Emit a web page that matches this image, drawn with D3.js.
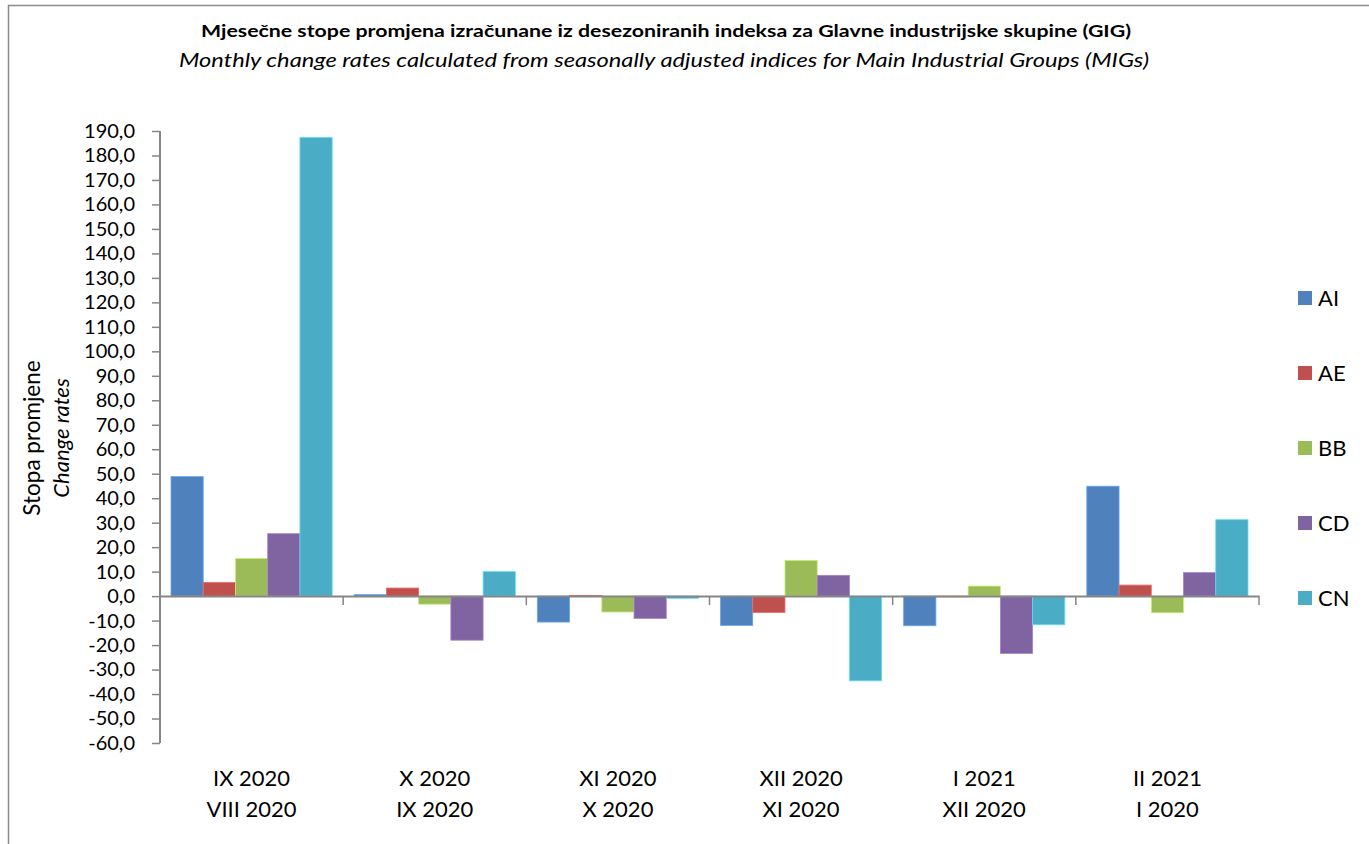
<!DOCTYPE html>
<html>
<head>
<meta charset="utf-8">
<script src="https://cdn.jsdelivr.net/npm/d3@7"></script>
<style>
  body { margin: 0; background: #fff; }
  svg { display: block; font-family: Lato, "Open Sans", sans-serif; }
</style>
</head>
<body>
<div id="chart"></div>
<script>
// periods: current month / previous month
const periodsTop = ['IX 2020', 'X 2020', 'XI 2020', 'XII 2020', 'I 2021', 'II 2021'];
const periodsBottom = ['VIII 2020', 'IX 2020', 'X 2020', 'XI 2020', 'XII 2020', 'I 2020'];
const seriesNames = ['AI', 'AE', 'BB', 'CD', 'CN'];
const seriesColors = ['#4F81BD', '#C0504D', '#9BBB59', '#8064A2', '#4BACC6'];

// values per series, one per period
const valuesAI = [48.8, 0.6, -10.6, -12.0, -12.1, 44.9];
const valuesAE = [5.6, 3.3, 0.3, -6.7, -0.3, 4.5];
const valuesBB = [15.4, -3.3, -6.5, 14.6, 4.1, -6.8];
const valuesCD = [25.5, -18.0, -9.1, 8.5, -23.4, 9.6];
const valuesCN = [187.4, 10.0, -0.9, -34.6, -11.7, 31.2];

const yTicks = d3.range(-60, 191, 10);

const W = 1369, H = 844;
const margin = {left: 160, right: 110, top: 131, bottom: 101};

const allValues = [valuesAI, valuesAE, valuesBB, valuesCD, valuesCN];
const data = periodsTop.map((p, i) => ({
  period: p,
  vals: seriesNames.map((s, j) => ({series: s, value: allValues[j][i], color: seriesColors[j]}))
}));

const svg = d3.select('#chart').append('svg')
  .attr('width', W).attr('height', H);

// outer frame
svg.append('rect')
  .attr('x', 8.5).attr('y', 5.5)
  .attr('width', W + 20).attr('height', H + 20)
  .attr('fill', 'none').attr('stroke', '#8c8c8c').attr('stroke-width', 1.5);

// titles
svg.append('text')
  .attr('x', 666).attr('y', 37)
  .attr('text-anchor', 'middle')
  .attr('font-size', 17.5).attr('font-weight', 'bold')
  .attr('textLength', 930).attr('lengthAdjust', 'spacingAndGlyphs')
  .text('Mjesečne stope promjena izračunane iz desezoniranih indeksa za Glavne industrijske skupine (GIG)');
svg.append('text')
  .attr('x', 664).attr('y', 67)
  .attr('text-anchor', 'middle')
  .attr('font-size', 19).attr('font-style', 'italic')
  .attr('textLength', 970).attr('lengthAdjust', 'spacingAndGlyphs')
  .text('Monthly change rates calculated from seasonally adjusted indices for Main Industrial Groups (MIGs)');

const x0 = d3.scaleBand()
  .domain(periodsTop)
  .range([margin.left, 1259]);

const x1 = d3.scaleBand()
  .domain(seriesNames)
  .range([11, x0.bandwidth() - 11]);

const y = d3.scaleLinear()
  .domain([-60, 190])
  .range([743, 131]);

// bars
const groups = svg.append('g').selectAll('g.grp')
  .data(data)
  .join('g')
  .attr('class', 'grp')
  .attr('transform', d => 'translate(' + x0(d.period) + ',0)');

groups.selectAll('rect')
  .data(d => d.vals)
  .join('rect')
  .attr('x', d => x1(d.series))
  .attr('width', x1.bandwidth())
  .attr('y', d => y(Math.max(0, d.value)))
  .attr('height', d => Math.abs(y(d.value) - y(0)))
  .attr('fill', d => d.color)
  .attr('stroke', d => d3.color(d.color).brighter(0.7))
  .attr('stroke-width', 0.8);

// y axis
const yAxis = d3.axisLeft(y)
  .tickValues(yTicks)
  .tickSize(8)
  .tickPadding(17)
  .tickFormat(d => d3.format('.1f')(d).replace('.', ',').replace('−', '-'));

const gy = svg.append('g')
  .attr('transform', 'translate(' + margin.left + ',0)')
  .call(yAxis);
gy.select('.domain').attr('stroke', '#868686').attr('stroke-width', 2)
  .attr('d', 'M0,' + y(190) + 'V' + y(-60));
gy.selectAll('.tick line').attr('stroke', '#868686').attr('stroke-width', 1.5);
gy.selectAll('.tick text')
  .attr('font-size', 20).attr('fill', '#000')
  .attr('font-family', 'Lato, sans-serif');

// zero line with category ticks
const xAxis = d3.axisBottom(x0)
  .tickValues([])
  .tickSizeOuter(0);
const gx = svg.append('g')
  .attr('transform', 'translate(0,' + y(0) + ')')
  .call(xAxis);
gx.select('.domain').attr('stroke', '#868686').attr('stroke-width', 2);
gx.selectAll('line.ctick')
  .data(periodsTop)
  .join('line')
  .attr('class', 'ctick')
  .attr('x1', d => x0(d) + x0.bandwidth())
  .attr('x2', d => x0(d) + x0.bandwidth())
  .attr('y1', 0).attr('y2', 9)
  .attr('stroke', '#868686').attr('stroke-width', 1.5);

// category labels
const labels = svg.append('g');
labels.selectAll('text.top')
  .data(periodsTop)
  .join('text')
  .attr('class', 'top')
  .attr('x', d => x0(d) + x0.bandwidth() / 2)
  .attr('y', 786)
  .attr('text-anchor', 'middle')
  .attr('font-size', 22)
  .text(d => d);
labels.selectAll('text.bot')
  .data(periodsBottom)
  .join('text')
  .attr('class', 'bot')
  .attr('x', (d, i) => x0(periodsTop[i]) + x0.bandwidth() / 2)
  .attr('y', 817)
  .attr('text-anchor', 'middle')
  .attr('font-size', 22)
  .text(d => d);

// y axis titles
svg.append('text')
  .attr('transform', 'translate(40,438) rotate(-90)')
  .attr('text-anchor', 'middle')
  .attr('font-size', 22.5)
  .text('Stopa promjene');
svg.append('text')
  .attr('transform', 'translate(69,438) rotate(-90)')
  .attr('text-anchor', 'middle')
  .attr('font-size', 22)
  .attr('font-style', 'italic')
  .text('Change rates');

// legend
const legend = svg.append('g')
  .selectAll('g')
  .data(seriesNames)
  .join('g')
  .attr('transform', (d, i) => 'translate(1298,' + (298 + i * 75) + ')');
legend.append('rect')
  .attr('x', 0).attr('y', -7)
  .attr('width', 14).attr('height', 14)
  .attr('fill', (d, i) => seriesColors[i]);
legend.append('text')
  .attr('x', 20).attr('y', 8)
  .attr('font-size', 22)
  .text(d => d);
</script>
</body>
</html>
